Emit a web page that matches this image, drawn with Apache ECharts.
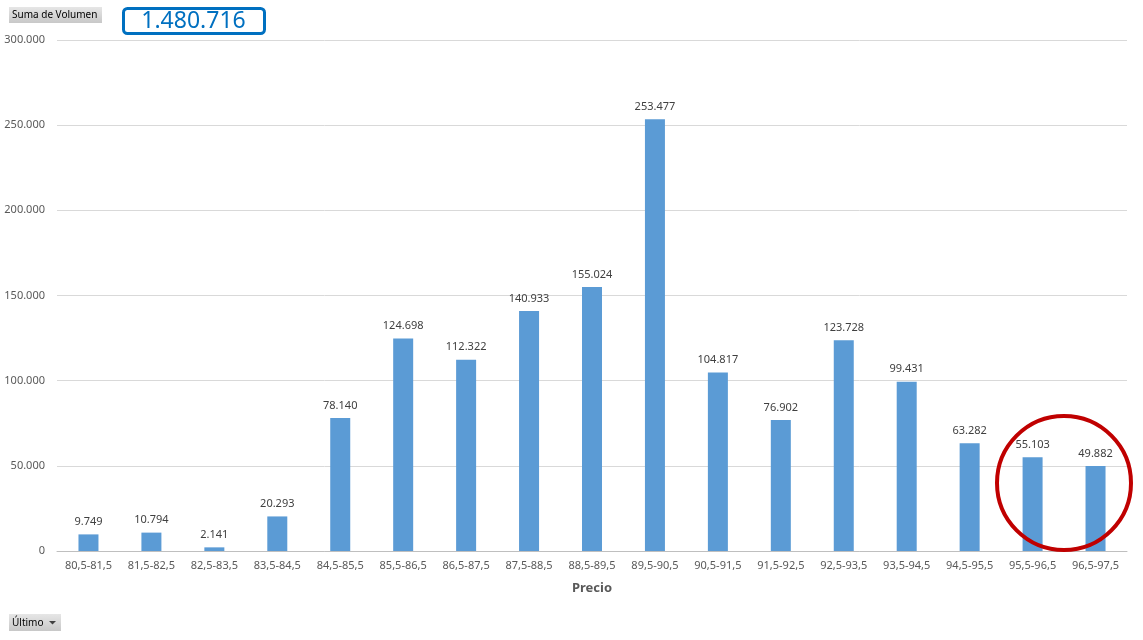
<!DOCTYPE html>
<html>
<head>
<meta charset="utf-8">
<script src="https://cdn.jsdelivr.net/npm/echarts@6/dist/echarts.min.js"></script>
<style>
  html, body { margin: 0; padding: 0; background: #fff; }
  #main { width: 1143px; height: 640px; }
</style>
</head>
<body>
<div id="main"></div>
<script>
  // rangos de precio
  const categories = ['80,5-81,5', '81,5-82,5', '82,5-83,5', '83,5-84,5', '84,5-85,5', '85,5-86,5',
    '86,5-87,5', '87,5-88,5', '88,5-89,5', '89,5-90,5', '90,5-91,5', '91,5-92,5', '92,5-93,5',
    '93,5-94,5', '94,5-95,5', '95,5-96,5', '96,5-97,5'];
  // volumen por rango
  const volumen = [9749, 10794, 2141, 20293, 78140, 124698, 112322, 140933, 155024, 253477,
    104817, 76902, 123728, 99431, 63282, 55103, 49882];
  const totalLabel = '1.480.716';

  const fmt = v => String(v).replace(/\B(?=(\d{3})+(?!\d))/g, '.');
  const font = '"Noto Sans", "Open Sans", sans-serif';

  const myChart = echarts.init(document.getElementById('main'));
  const option = {
    animation: false,
    textStyle: { fontFamily: font },
    grid: { left: 57, right: 16, top: 40, bottom: 89 },
    xAxis: {
      type: 'category',
      data: categories,
      name: 'Precio',
      nameLocation: 'middle',
      nameGap: 31,
      nameTextStyle: { fontSize: 13, fontWeight: 'bold', color: '#595959', fontFamily: font },
      axisLine: { lineStyle: { color: '#bfbfbf' } },
      axisTick: { show: false },
      axisLabel: { fontSize: 11, color: '#595959', margin: 9, fontFamily: font }
    },
    yAxis: {
      type: 'value',
      min: 0,
      max: 300000,
      interval: 50000,
      axisLine: { show: false },
      axisTick: { show: false },
      splitLine: { lineStyle: { color: '#d9d9d9' } },
      axisLabel: { fontSize: 11, color: '#595959', margin: 12, formatter: v => fmt(v), fontFamily: font }
    },
    series: [{
      type: 'bar',
      data: volumen,
      barWidth: 20,
      itemStyle: { color: '#5b9bd5' },
      label: {
        show: true,
        position: 'top',
        distance: 7,
        fontSize: 11,
        color: '#404040',
        fontFamily: font,
        formatter: p => fmt(p.value)
      }
    }],
    graphic: [
      {
        type: 'group', left: 9, top: 7,
        children: [
          { type: 'rect', shape: { x: 0, y: 0, width: 93, height: 16 },
            style: { fill: new echarts.graphic.LinearGradient(0, 0, 0, 1, [
              { offset: 0, color: '#e6e6e6' }, { offset: 1, color: '#c8c8c8' }]) } },
          { type: 'text', x: 3, y: 8, style: { text: 'Suma de Volumen', fontSize: 10, fill: '#000',
            verticalAlign: 'middle', fontFamily: font } }
        ]
      },
      {
        type: 'group', left: 122, top: 7,
        children: [
          { type: 'rect', shape: { x: 1, y: 1, width: 141, height: 25, r: 4 },
            style: { fill: '#fff', stroke: '#0070c0', lineWidth: 3 } },
          { type: 'text', x: 71, y: 14, style: { text: totalLabel, fontSize: 23, fill: '#0070c0',
            align: 'center', verticalAlign: 'middle', fontFamily: font } }
        ]
      },
      {
        type: 'group', left: 9, top: 614,
        children: [
          { type: 'rect', shape: { x: 0, y: 0, width: 52, height: 17 },
            style: { fill: new echarts.graphic.LinearGradient(0, 0, 0, 1, [
              { offset: 0, color: '#e6e6e6' }, { offset: 1, color: '#c8c8c8' }]) } },
          { type: 'text', x: 3, y: 9, style: { text: 'Último', fontSize: 10, fill: '#000',
            verticalAlign: 'middle', fontFamily: font } },
          { type: 'polygon', shape: { points: [[40, 7], [47, 7], [43.5, 10.5]] }, style: { fill: '#404040' } }
        ]
      },
      {
        type: 'ellipse',
        shape: { cx: 1064, cy: 483, rx: 67, ry: 67 },
        style: { fill: 'none', stroke: '#c00000', lineWidth: 4 },
        z: 10
      }
    ]
  };
  myChart.setOption(option);
</script>
</body>
</html>
